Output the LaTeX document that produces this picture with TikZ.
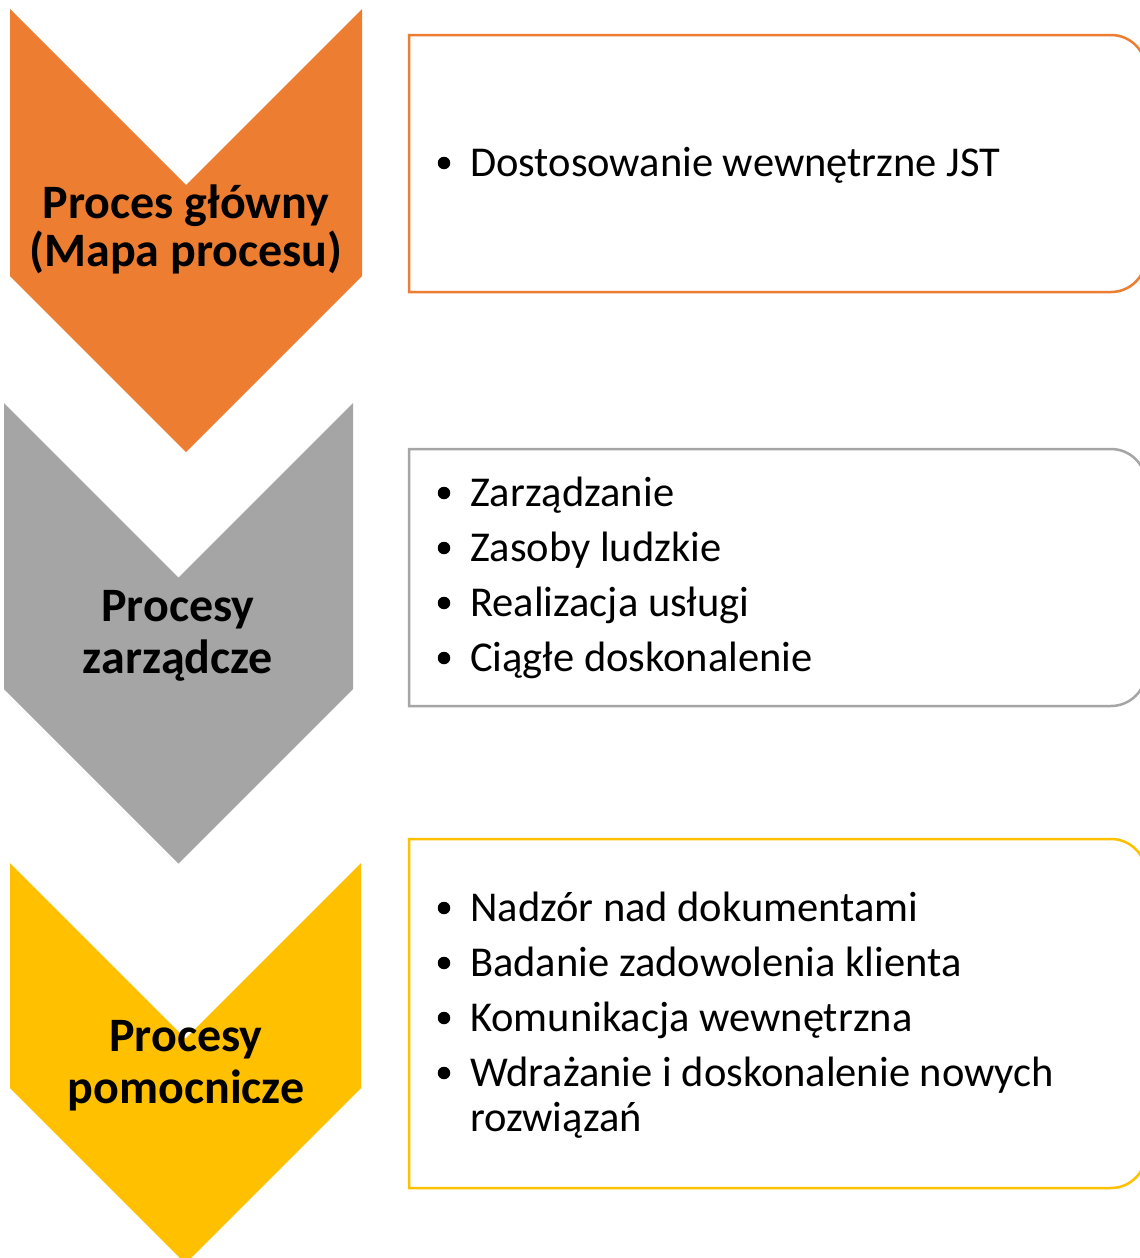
\documentclass[tikz,border=0pt]{standalone}
\usepackage{fontspec}
\setmainfont{Carlito}
\definecolor{corange}{HTML}{ED7D31}
\definecolor{cgrey}{HTML}{A5A5A5}
\definecolor{cyellow}{HTML}{FFC000}
\tikzset{
  chevron/.style={fill=#1, draw=none},
  pbox/.style={draw=#1, line width=2.5pt, fill=white},
  chevlabel/.style={anchor=base, inner sep=0pt, font=\fontsize{48}{57}\selectfont\bfseries, text=black},
  itemtext/.style={anchor=base west, inner sep=0pt, font=\fontsize{42.5}{51}\selectfont, text=black},
  bul/.style={circle, fill=black, inner sep=0pt, minimum size=12.5pt}
}
\begin{document}
\begin{tikzpicture}[x=1pt, y=-1pt]
\useasboundingbox (0,0) rectangle (1140,1258);
\clip (0,0) rectangle (1140,1258);
% chevrons
\fill[chevron=corange] (10,9) -- (186,185) -- (362,9) -- (362,276) -- (186,452) -- (10,276) -- cycle;
\fill[chevron=cgrey] (4,403) -- (178.5,577.5) -- (353,403) -- (353,689) -- (178.5,863.5) -- (4,689) -- cycle;
\fill[chevron=cyellow] (10,863) -- (185.5,1038.5) -- (361,863) -- (361,1088) -- (185.5,1263.5) -- (10,1088) -- cycle;
% chevron labels
\node[chevlabel] (c1a) at (186,218) {Proces główny};
\node[chevlabel] (c1b) at (186,266) {(Mapa procesu)};
\node[chevlabel] (c2a) at (178,621) {Procesy};
\node[chevlabel] (c2b) at (178,673) {zarządcze};
\node[chevlabel] (c3a) at (186,1051) {Procesy};
\node[chevlabel] (c3b) at (186,1103) {pomocnicze};
% boxes (square left corners, rounded right corners)
\draw[pbox=corange] (409,292) -- (409,35) -- (1111,35)
  .. controls (1130.3,35) and (1146,50.7) .. (1146,70)
  -- (1146,257)
  .. controls (1146,276.3) and (1130.3,292) .. (1111,292) -- cycle;
\draw[pbox=cgrey] (409,706) -- (409,449) -- (1111,449)
  .. controls (1130.3,449) and (1146,464.7) .. (1146,484)
  -- (1146,671)
  .. controls (1146,690.3) and (1130.3,706) .. (1111,706) -- cycle;
\draw[pbox=cyellow] (409,1188) -- (409,839) -- (1111,839)
  .. controls (1130.3,839) and (1146,854.7) .. (1146,874)
  -- (1146,1153)
  .. controls (1146,1172.3) and (1130.3,1188) .. (1111,1188) -- cycle;
% box 1 text
\node[bul] (b1) at (444,163) {};
\node[itemtext] (t1) at (470,176) {Dostosowanie wewnętrzne JST};
% box 2 text
\node[bul] (b2) at (444,493) {};
\node[itemtext] (t2) at (470,506) {Zarządzanie};
\node[bul] (b3) at (444,548) {};
\node[itemtext] (t3) at (470,561) {Zasoby ludzkie};
\node[bul] (b4) at (444,603) {};
\node[itemtext] (t4) at (470,616) {Realizacja usługi};
\node[bul] (b5) at (444,658) {};
\node[itemtext] (t5) at (470,671) {Ciągłe doskonalenie};
% box 3 text
\node[bul] (b6) at (444,908) {};
\node[itemtext] (t6) at (470,921) {Nadzór nad dokumentami};
\node[bul] (b7) at (444,963) {};
\node[itemtext] (t7) at (470,976) {Badanie zadowolenia klienta};
\node[bul] (b8) at (444,1018) {};
\node[itemtext] (t8) at (470,1031) {Komunikacja wewnętrzna};
\node[bul] (b9) at (444,1073) {};
\node[itemtext] (t9) at (470,1086) {Wdrażanie i doskonalenie nowych};
\node[itemtext] (t10) at (470,1131) {rozwiązań};
\end{tikzpicture}
\end{document}
